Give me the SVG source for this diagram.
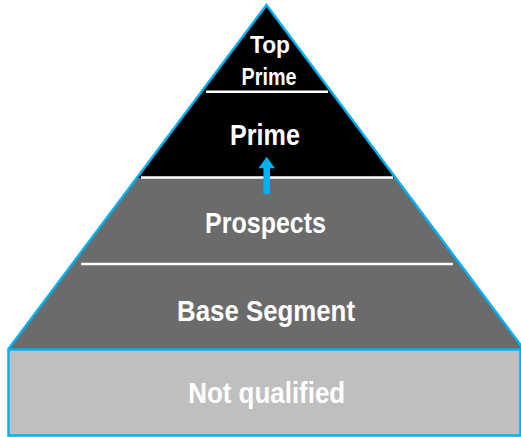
<svg xmlns="http://www.w3.org/2000/svg" width="521" height="437" viewBox="0 0 521 437">
<style>
.lbl{font-family:"Liberation Sans",Arial,sans-serif;font-weight:bold;fill:#ffffff;text-anchor:middle}
.big{font-size:29.5px}
.small{font-size:24px}
.sep{stroke:#ffffff;stroke-width:2.5;fill:none}
.edge{stroke:#00b0f0;stroke-width:2.5;fill:none;stroke-linejoin:miter}
</style>
<rect width="521" height="437" fill="#ffffff"/>
<g id="top-prime">
<polygon points="266.5,5 202,91 331,91" fill="#000000"/>
<text class="lbl small" x="270" y="52.5" textLength="40" lengthAdjust="spacingAndGlyphs">Top</text>
<text class="lbl small" x="269" y="85" textLength="55" lengthAdjust="spacingAndGlyphs">Prime</text>
</g>
<g id="prime">
<polygon points="202,91 331,91 396,178 137,178" fill="#000000"/>
<line class="sep" x1="206" y1="91.7" x2="328" y2="91.7"/>
<text class="lbl big" x="265" y="145" textLength="70" lengthAdjust="spacingAndGlyphs">Prime</text>
</g>
<g id="prospects">
<polygon points="137,178 396,178 460.5,264 72.5,264" fill="#6b6b6b"/>
<line class="sep" x1="141" y1="177.5" x2="393" y2="177.5"/>
<text class="lbl big" x="265.5" y="233" textLength="121" lengthAdjust="spacingAndGlyphs">Prospects</text>
</g>
<g id="base-segment">
<polygon points="72.5,264 460.5,264 523.5,349 8.5,349" fill="#6b6b6b"/>
<line class="sep" x1="81" y1="264" x2="453" y2="264"/>
<text class="lbl big" x="266" y="320.5" textLength="178" lengthAdjust="spacingAndGlyphs">Base Segment</text>
</g>
<polyline class="edge" points="8.5,349 266.5,5 523.5,349"/>
<g id="not-qualified">
<rect x="8.5" y="349.5" width="512" height="86" fill="#bfbfbf" stroke="#00b0f0" stroke-width="2.5"/>
<text class="lbl big" x="266.7" y="403.3" textLength="157" lengthAdjust="spacingAndGlyphs">Not qualified</text>
</g>
<g id="connectors">
<polygon points="266.7,156.7 275,168.3 270,168.3 270,194 263.4,194 263.4,168.3 258.4,168.3" fill="#00b0f0"/>
</g>
</svg>
